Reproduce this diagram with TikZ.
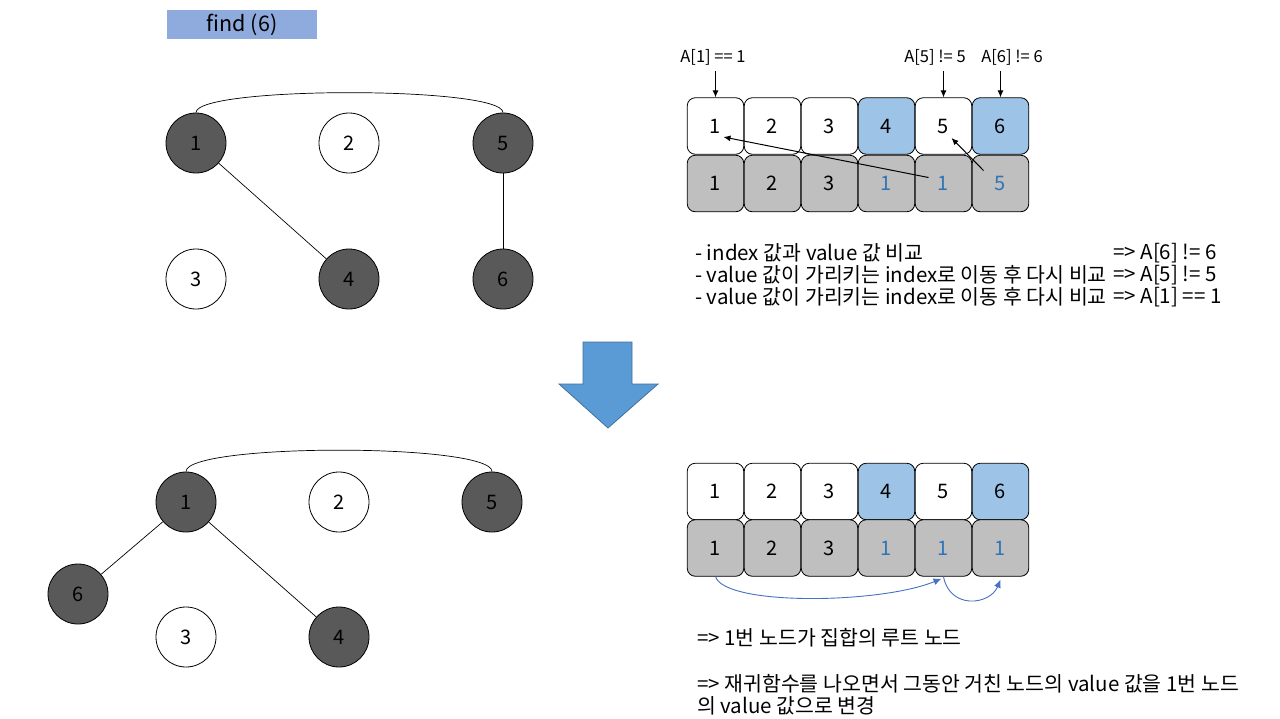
\documentclass[tikz,border=0pt]{standalone}
\usepackage{fontspec}
\setmainfont{Noto Sans CJK KR}
\usetikzlibrary{arrows.meta,calc}
\definecolor{findblue}{HTML}{8FAADC}
\definecolor{cblue}{HTML}{9DC3E6}
\definecolor{cgrey}{HTML}{BFBFBF}
\definecolor{darknode}{HTML}{595959}
\definecolor{numblue}{HTML}{2E75B6}
\definecolor{arrowblue}{HTML}{5B9BD5}
\definecolor{arrowedge}{HTML}{41719C}
\definecolor{curveblue}{HTML}{4472C4}
\tikzset{
  vtx/.style={circle,draw=black,line width=0.8pt,minimum size=60pt,inner sep=0pt,font=\fontsize{20}{24}\selectfont},
  dark/.style={vtx,fill=darknode},
  light/.style={vtx,fill=white},
  cell/.style={draw=black,line width=0.8pt,rounded corners=8pt,minimum width=56.5pt,minimum height=56.5pt,inner sep=0pt,font=\fontsize{20}{24}\selectfont},
  edge/.style={line width=0.7pt,black},
  ptr/.style={line width=1pt,-{Latex[length=7pt,width=6pt]}},
  lbl/.style={font=\fontsize{16.5}{18}\selectfont,inner sep=0pt},
  txt/.style={font=\fontsize{20.5}{24}\selectfont,inner sep=0pt,anchor=west},
  bluecurve/.style={curveblue,line width=0.9pt,-{Latex[length=8pt,width=7pt]}}
}
\begin{document}
\begin{tikzpicture}[x=1pt,y=-1pt]
\useasboundingbox (0,0) rectangle (1280,718);
\fill[white] (0,0) rectangle (1280,718);

% find box
\node[fill=findblue,minimum width=150pt,minimum height=29pt,inner sep=0pt,font=\fontsize{21.5}{24}\selectfont] (find) at (242,24.5) {find (6)};

% top graph
\node[dark]  (a1) at (196,143) {1};
\node[light] (a2) at (349,143) {2};
\node[dark]  (a5) at (503,143) {5};
\node[light] (a3) at (196,279) {3};
\node[dark]  (a4) at (349,279) {4};
\node[dark]  (a6) at (503,279) {6};
\draw[edge] (a1.north) .. controls (196,86) and (503,86) .. (a5.north);
\draw[edge] (a1) -- (a4);
\draw[edge] (a5) -- (a6);

% down arrow
\filldraw[fill=arrowblue,draw=arrowedge,line width=0.8pt] (583,342) -- (632,342) -- (632,384) -- (658,384) -- (608,428) -- (559,384) -- (583,384) -- cycle;

% bottom graph
\node[dark]  (c1) at (186,502) {1};
\node[light] (c2) at (339,502) {2};
\node[dark]  (c5) at (492,502) {5};
\node[dark]  (c6) at (78,594) {6};
\node[light] (c3) at (186,637) {3};
\node[dark]  (c4) at (339,637) {4};
\draw[edge] (c1.north) .. controls (186,443) and (492,443) .. (c5.north);
\draw[edge] (c1) -- (c6);
\draw[edge] (c1) -- (c4);

% top array
\foreach \i/\c in {1/white,2/white,3/white,4/cblue,5/white,6/cblue}
  \node[cell,fill=\c] (t\i) at ({715.5+57*(\i-1)},126) {\i};
\foreach \i/\v/\tc in {1/1/black,2/2/black,3/3/black,4/1/numblue,5/1/numblue,6/5/numblue}
  \node[cell,fill=cgrey,text=\tc] (b\i) at ({715.5+57*(\i-1)},183.5) {\v};

% labels above
\node[lbl] (l1) at (713,57) {A[1] == 1};
\node[lbl] (l5) at (935,57) {A[5] != 5};
\node[lbl] (l6) at (1012,57) {A[6] != 6};
\draw[ptr] (t1.north |- 0,71) -- (t1.north);
\draw[ptr] (t5.north |- 0,71) -- (t5.north);
\draw[ptr] (t6.north |- 0,71) -- (t6.north);

% pointer arrows
\draw[ptr] ($(b5.center)+(-15,-6)$) -- ($(t1.center)+(8,11)$);
\draw[ptr] ($(b6.center)+(-17,-13)$) -- ($(t5.center)+(8,12)$);

% explanation text
\node[txt] (e1) at (695,253) {- index 값과 value 값 비교};
\node[txt] (e2) at (695,275) {- value 값이 가리키는 index로 이동 후 다시 비교};
\node[txt] (e3) at (695,297) {- value 값이 가리키는 index로 이동 후 다시 비교};
\node[txt] (r1) at (1113,253) {=> A[6] != 6};
\node[txt] (r2) at (1113,275) {=> A[5] != 5};
\node[txt] (r3) at (1113,297) {=> A[1] == 1};

% bottom array
\foreach \i/\c in {1/white,2/white,3/white,4/cblue,5/white,6/cblue}
  \node[cell,fill=\c] (u\i) at ({715.5+57*(\i-1)},491.5) {\i};
\foreach \i/\v/\tc in {1/1/black,2/2/black,3/3/black,4/1/numblue,5/1/numblue,6/1/numblue}
  \node[cell,fill=cgrey,text=\tc] (v\i) at ({715.5+57*(\i-1)},548) {\v};
\draw[bluecurve] (v1.south) .. controls (725,606) and (880,604) .. ($(v5.south)+(-2,2)$);
\draw[bluecurve] (v5.south) .. controls (950,610) and (990,605) .. ($(v6.south)+(0,3)$);

% bottom text
\node[txt] (f1) at (697,638) {=> 1번 노드가 집합의 루트 노드};
\node[txt] (f2) at (697,684) {=> 재귀함수를 나오면서 그동안 거친 노드의 value 값을 1번 노드};
\node[txt] (f3) at (697,706) {의 value 값으로 변경};
\end{tikzpicture}
\end{document}
